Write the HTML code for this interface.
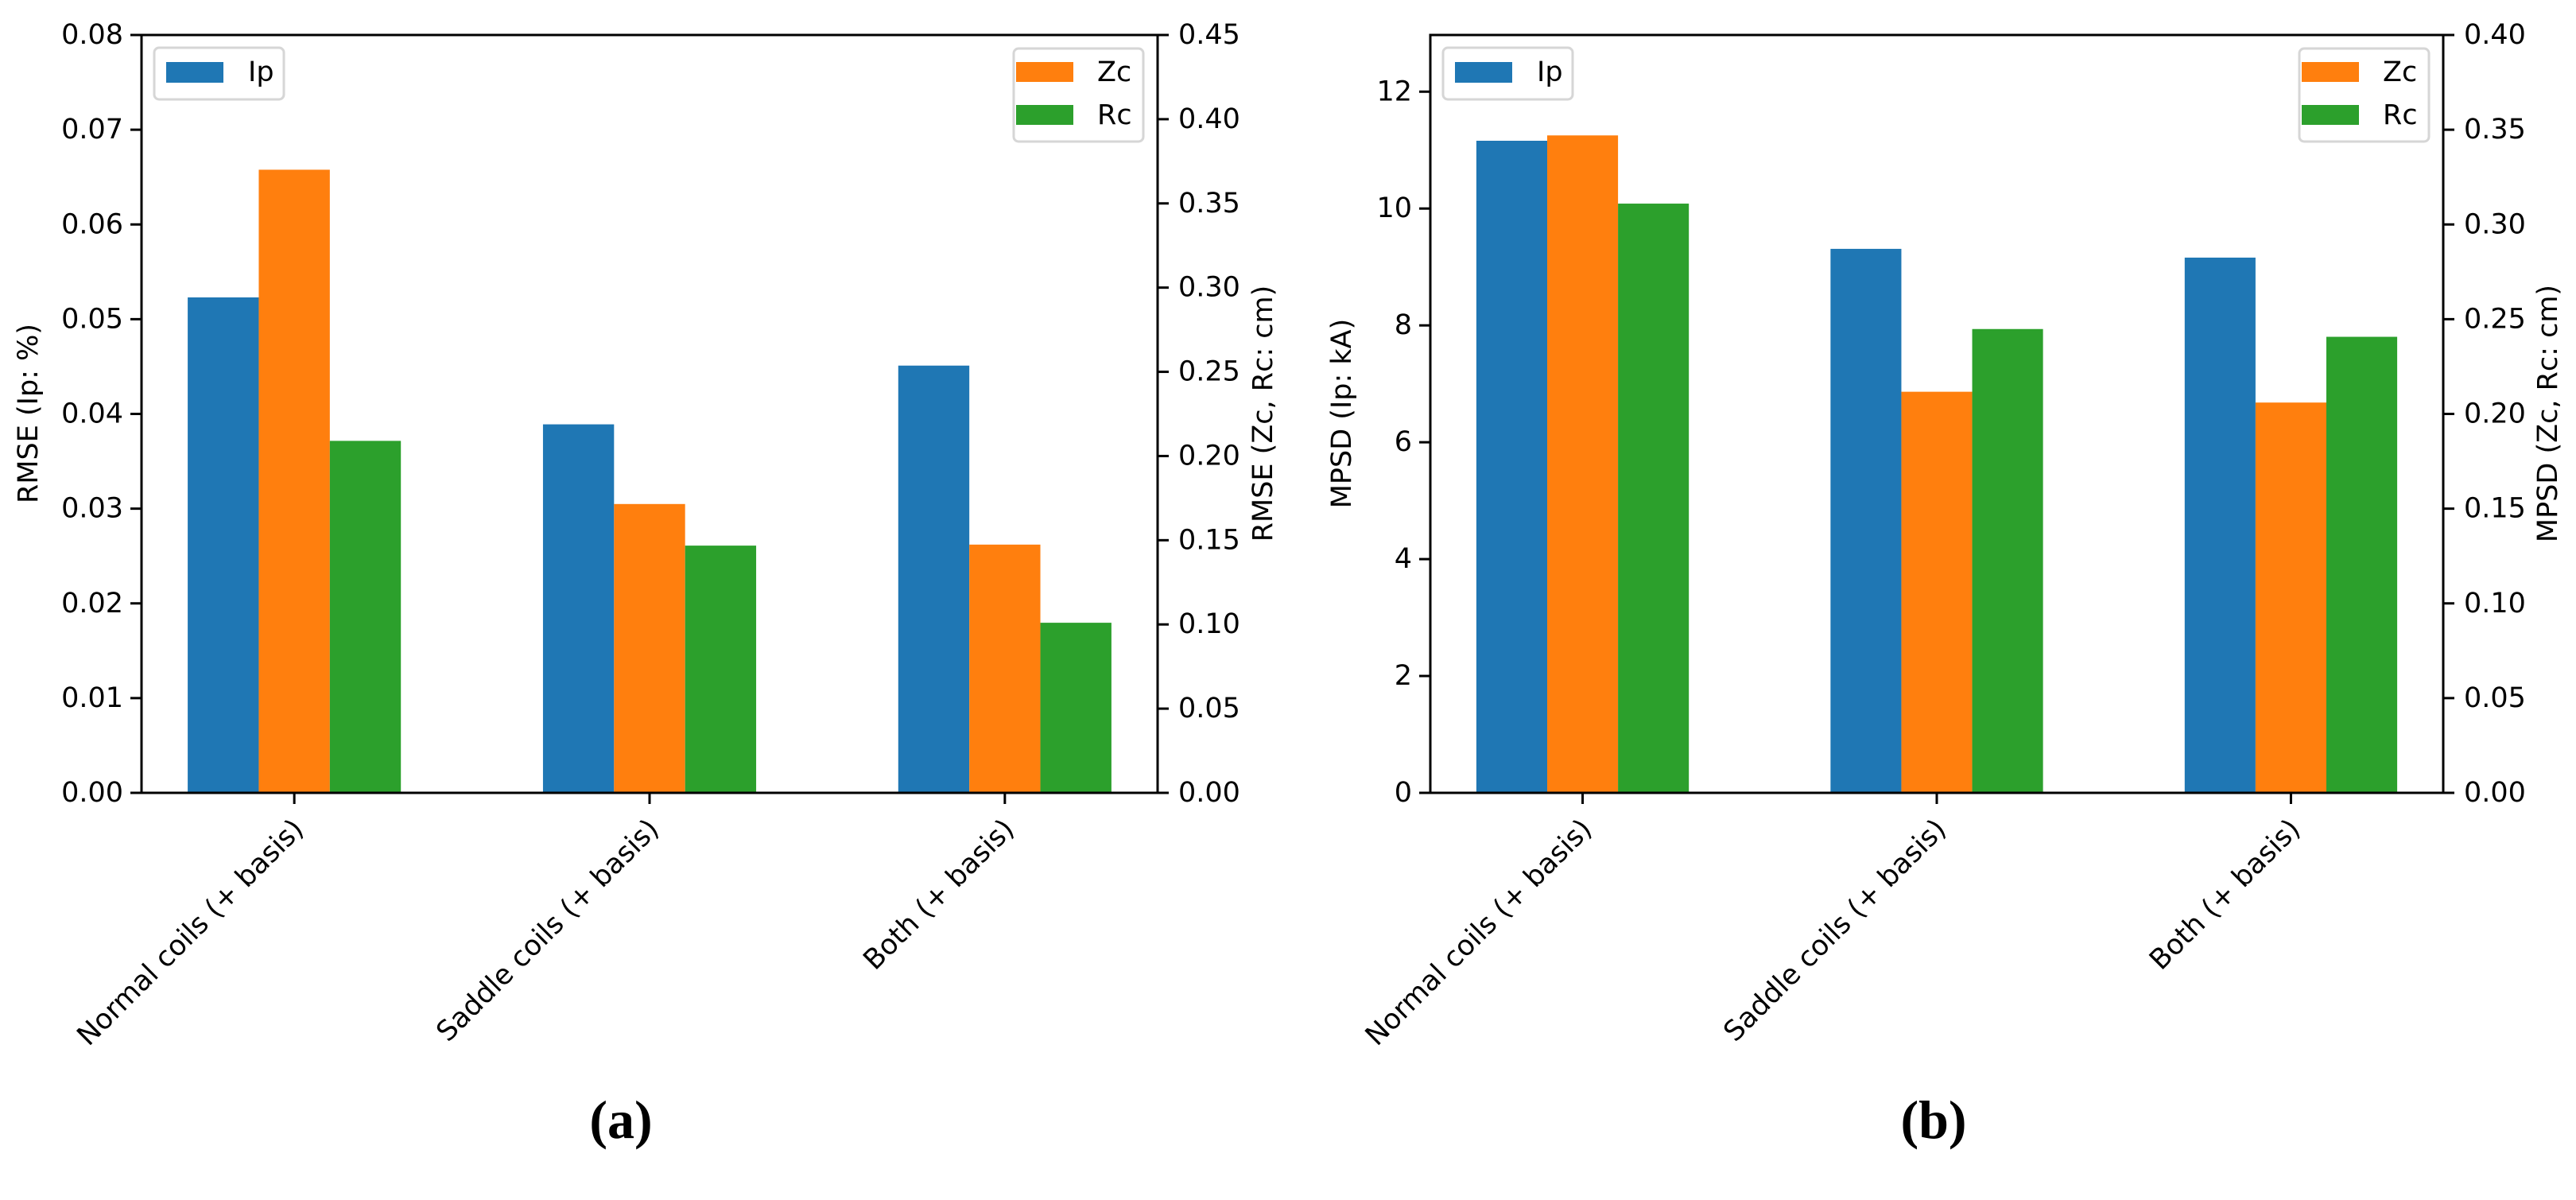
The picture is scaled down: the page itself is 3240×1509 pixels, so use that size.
<!DOCTYPE html>
<html><head><meta charset="utf-8"><style>
html,body{margin:0;padding:0;background:#fff;}
svg{display:block;font-family:"DejaVu Sans","Liberation Sans",sans-serif;}
</style></head>
<body>
<svg id="fig" width="3240" height="1509" viewBox="0 0 3240 1509" xmlns="http://www.w3.org/2000/svg">
<rect width="3240" height="1509" fill="#fff"/>
</svg>
<script>
const categories = ["Normal coils (+ basis)", "Saddle coils (+ basis)", "Both (+ basis)"];
const rmseIp = [0.0523, 0.0389, 0.0451];
const rmseZc = [0.370, 0.1715, 0.1474];
const rmseRc = [0.209, 0.1468, 0.101];
const mpsdIp = [11.16, 9.31, 9.16];
const mpsdZc = [0.347, 0.2117, 0.206];
const mpsdRc = [0.311, 0.2448, 0.2407];
const rmseLeftTicks = [0, 0.01, 0.02, 0.03, 0.04, 0.05, 0.06, 0.07, 0.08];
const rmseRightTicks = [0, 0.05, 0.10, 0.15, 0.20, 0.25, 0.30, 0.35, 0.40, 0.45];
const mpsdLeftTicks = [0, 2, 4, 6, 8, 10, 12];
const mpsdRightTicks = [0, 0.05, 0.10, 0.15, 0.20, 0.25, 0.30, 0.35, 0.40];

const NS = "http://www.w3.org/2000/svg";
const svg = document.getElementById('fig');
const FS = 35;
function mk(tag, attrs, parent) {
  const e = document.createElementNS(NS, tag);
  for (const k in attrs) e.setAttribute(k, attrs[k]);
  (parent || svg).appendChild(e);
  return e;
}
const C = {ip: "#1f77b4", zc: "#ff7f0e", rc: "#2ca02c"};

function panel(cfg) {
  const g = mk('g', {});
  
  
  const L = cfg.left, R = cfg.right, T = 44, B = 997;
  const xmin = -0.43, xmax = 2.43;
  const sx = v => L + (v - xmin) / (xmax - xmin) * (R - L);
  const syL = v => B - v / cfg.lmax * (B - T);
  const syR = v => B - v / cfg.rmax * (B - T);
  const w = 0.2;
  function bars(vals, off, sy, col, nm) {
    vals.forEach((v, i) => {
      const x0 = sx(i + off - w / 2), x1 = sx(i + off + w / 2);
      const r = mk('rect', {x: x0, y: sy(v), width: x1 - x0, height: B - sy(v), fill: col}, g);
      
      
    });
  }
  bars(cfg.ip, -0.2, syL, C.ip, 'ip');
  bars(cfg.zc, 0, syR, C.zc, 'zc');
  bars(cfg.rc, 0.2, syR, C.rc, 'rc');
  const fr = mk('rect', {x: L, y: T, width: R - L, height: B - T, fill: 'none', stroke: '#000', 'stroke-width': 3}, g);
  
  
  cfg.lticks.forEach(t => {
    const y = syL(t);
    mk('line', {x1: L - 14, x2: L, y1: y, y2: y, stroke: '#000', 'stroke-width': 3}, g);
    const tx = mk('text', {x: L - 23, y: y, 'font-size': FS, 'text-anchor': 'end', 'dominant-baseline': 'central'}, g);
    
    
    tx.textContent = t.toFixed(cfg.ldec);
  });
  cfg.rticks.forEach(t => {
    const y = syR(t);
    mk('line', {x1: R, x2: R + 14, y1: y, y2: y, stroke: '#000', 'stroke-width': 3}, g);
    const tx = mk('text', {x: R + 26, y: y, 'font-size': FS, 'text-anchor': 'start', 'dominant-baseline': 'central'}, g);
    
    
    tx.textContent = t.toFixed(2);
  });
  categories.forEach((c, i) => {
    const x = sx(i);
    mk('line', {x1: x, x2: x, y1: B, y2: B + 14, stroke: '#000', 'stroke-width': 3}, g);
    const tx = mk('text', {x: x - 4, y: B + 30, 'font-size': FS, 'text-anchor': 'end', 'dominant-baseline': 'hanging', transform: `rotate(-45 ${x - 4} ${B + 30})`}, g);
    
    
    tx.textContent = c;
  });
  const yl = mk('text', {x: cfg.lLabelX, y: 520, 'font-size': FS, 'text-anchor': 'middle', 'dominant-baseline': 'central', transform: `rotate(-90 ${cfg.lLabelX} 520)`}, g);
  
  
  yl.textContent = cfg.lLabel;
  const yr = mk('text', {x: cfg.rLabelX, y: 520, 'font-size': FS, 'text-anchor': 'middle', 'dominant-baseline': 'central', transform: `rotate(-90 ${cfg.rLabelX} 520)`}, g);
  
  
  yr.textContent = cfg.rLabel;
  const lg1 = mk('g', {}, g);
  
  
  mk('rect', {x: L + 16, y: 60, width: 163, height: 65, rx: 6, fill: '#fff', stroke: '#d6d6d6', 'stroke-width': 3}, lg1);
  mk('rect', {x: L + 31, y: 78, width: 72, height: 26, fill: C.ip}, lg1);
  const t1 = mk('text', {x: L + 134, y: 91, 'font-size': FS, 'dominant-baseline': 'central'}, lg1);
  t1.textContent = 'Ip';
  const lg2 = mk('g', {}, g);
  
  
  mk('rect', {x: R - 18 - 163, y: 61, width: 163, height: 117, rx: 6, fill: '#fff', stroke: '#d6d6d6', 'stroke-width': 3}, lg2);
  mk('rect', {x: R - 106 - 72, y: 78, width: 72, height: 25, fill: C.zc}, lg2);
  mk('rect', {x: R - 106 - 72, y: 132, width: 72, height: 25, fill: C.rc}, lg2);
  const t2 = mk('text', {x: R - 76, y: 91, 'font-size': FS, 'dominant-baseline': 'central'}, lg2);
  t2.textContent = 'Zc';
  const t3 = mk('text', {x: R - 76, y: 145, 'font-size': FS, 'dominant-baseline': 'central'}, lg2);
  t3.textContent = 'Rc';
  const cap = mk('text', {x: cfg.capX, y: 1408, 'font-size': 68, 'font-weight': 'bold', 'text-anchor': 'middle', 'dominant-baseline': 'central', 'font-family': '"Liberation Serif", serif'}, g);
  
  
  cap.textContent = cfg.cap;
}

panel({name: 'panel-a-rmse', left: 178, right: 1456, lmax: 0.08, rmax: 0.45,
  ip: rmseIp, zc: rmseZc, rc: rmseRc, lticks: rmseLeftTicks, rticks: rmseRightTicks, ldec: 2,
  lLabel: 'RMSE (Ip: %)', rLabel: 'RMSE (Zc, Rc: cm)', lLabelX: 36, rLabelX: 1589, capX: 781, cap: '(a)'});
panel({name: 'panel-b-mpsd', left: 1799, right: 3073, lmax: 12.97, rmax: 0.40,
  ip: mpsdIp, zc: mpsdZc, rc: mpsdRc, lticks: mpsdLeftTicks, rticks: mpsdRightTicks, ldec: 0,
  lLabel: 'MPSD (Ip: kA)', rLabel: 'MPSD (Zc, Rc: cm)', lLabelX: 1688, rLabelX: 3205, capX: 2432, cap: '(b)'});
</script>
</body></html>
